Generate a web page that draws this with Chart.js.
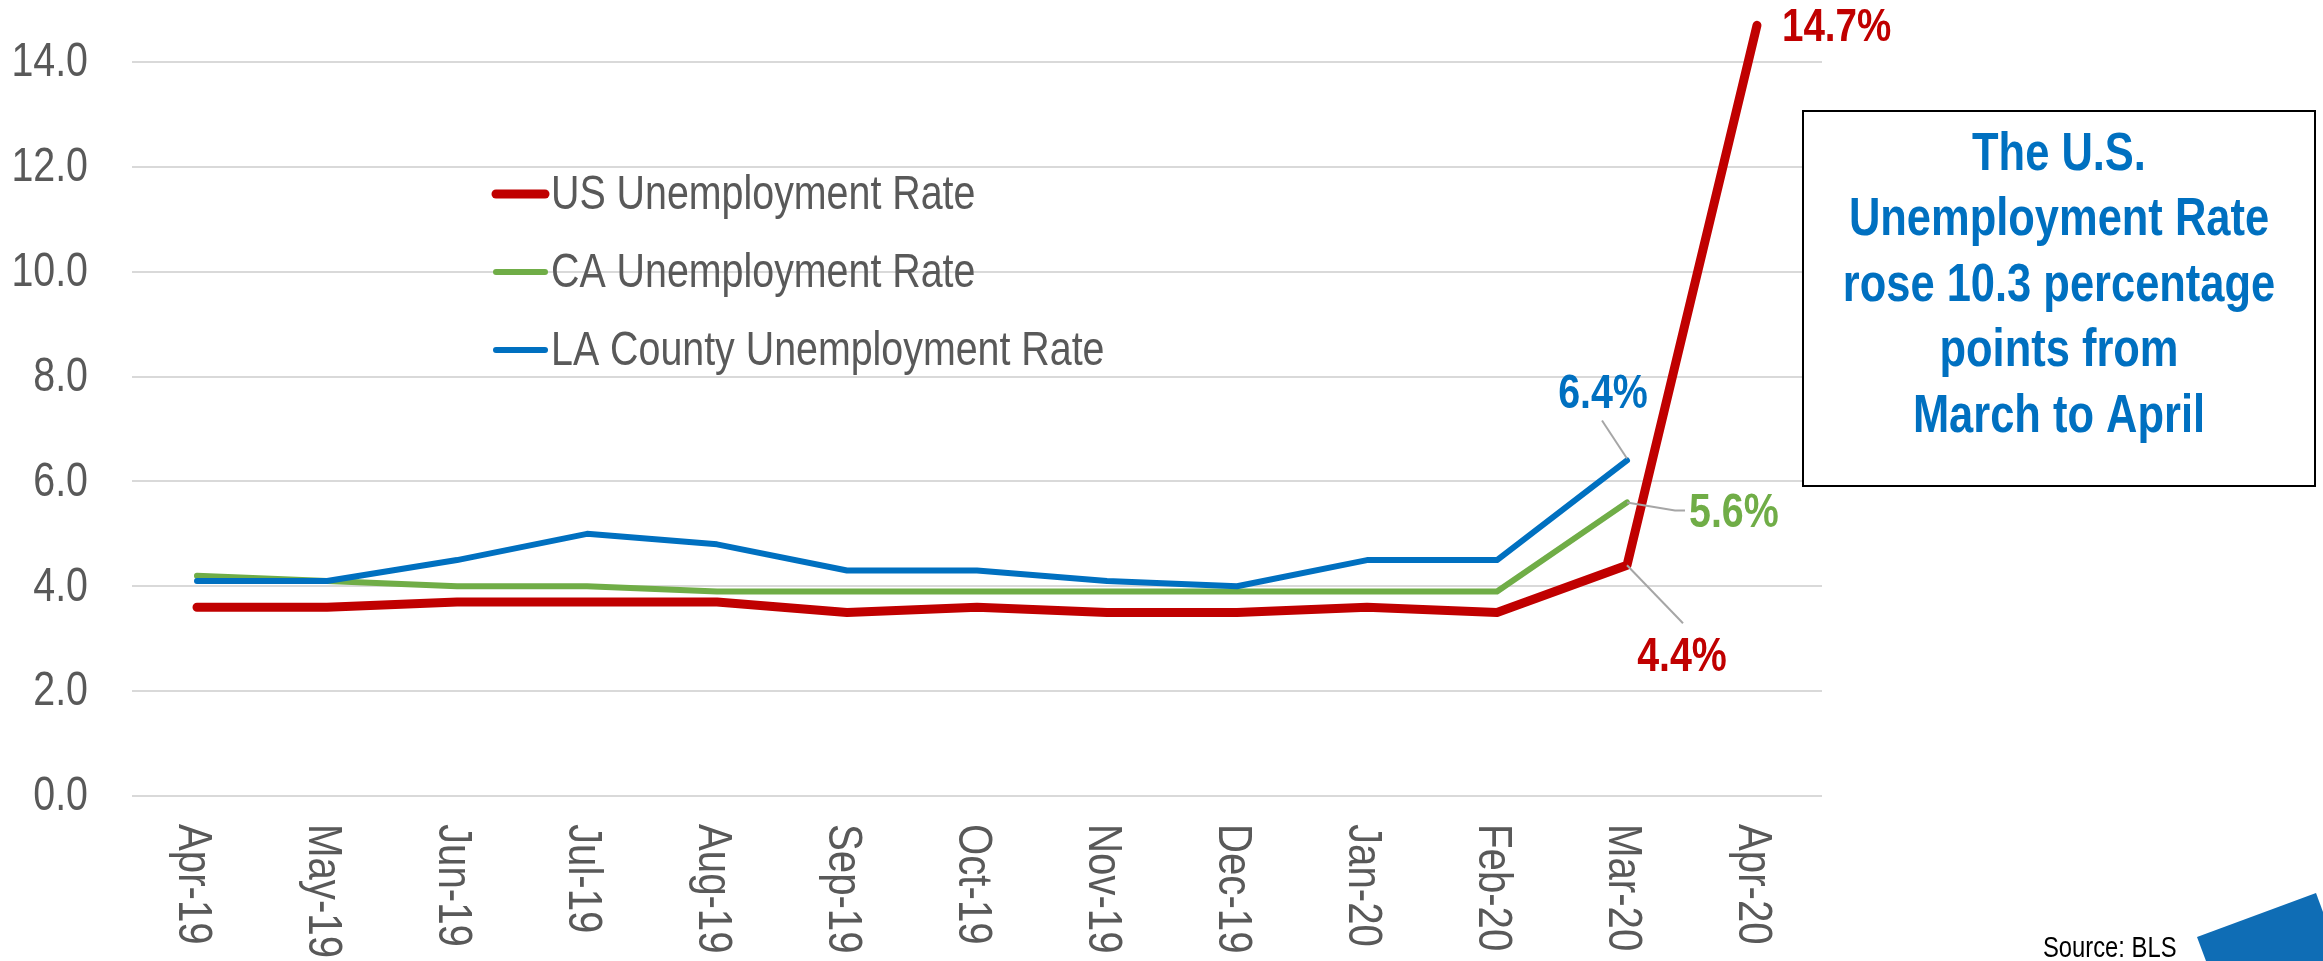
<!DOCTYPE html>
<html>
<head>
<meta charset="utf-8">
<script src="https://cdn.jsdelivr.net/npm/chart.js@4.4.0/dist/chart.umd.min.js"></script>
<style>
  html, body { margin: 0; padding: 0; background: #ffffff; }
  #wrap { width: 2323px; height: 961px; position: relative; }
</style>
</head>
<body>
<div id="wrap"><canvas id="chart" width="2323" height="961"></canvas></div>
<script>
// ---- data ----
const months = ["Apr-19", "May-19", "Jun-19", "Jul-19", "Aug-19", "Sep-19", "Oct-19",
    "Nov-19", "Dec-19", "Jan-20", "Feb-20", "Mar-20", "Apr-20"];
const usRate = [3.6, 3.6, 3.7, 3.7, 3.7, 3.5, 3.6, 3.5, 3.5, 3.6, 3.5, 4.4, 14.7];
const caRate = [4.2, 4.1, 4.0, 4.0, 3.9, 3.9, 3.9, 3.9, 3.9, 3.9, 3.9, 5.6, null];
const laRate = [4.1, 4.1, 4.5, 5.0, 4.8, 4.3, 4.3, 4.1, 4.0, 4.5, 4.5, 6.4, null];
const seriesNames = ["US Unemployment Rate", "CA Unemployment Rate", "LA County Unemployment Rate"];
const yTicks = [0, 2, 4, 6, 8, 10, 12, 14];
const noteLines = ["The U.S.", "Unemployment Rate", "rose 10.3 percentage", "points from", "March to April"];
const sourceText = "Source: BLS";

const RED = "#C00000";
const GREEN = "#70AD47";
const BLUE = "#0070C0";
const GREY_TEXT = "#595959";

// narrow font check, fall back to squeezing Liberation Sans
const probe = document.createElement("canvas").getContext("2d");
probe.font = '48px "Liberation Sans Narrow", monospace';
const wNarrow = probe.measureText("Unemployment Rate").width;
probe.font = "48px monospace";
const wMono = probe.measureText("Unemployment Rate").width;
const hasNarrow = Math.abs(wNarrow - wMono) > 0.5;
const FAMILY = hasNarrow ? '"Liberation Sans Narrow"' : '"Liberation Sans", Arial';
const SQUEEZE = hasNarrow ? 1 : 0.82;

function drawText(ctx, text, x, y, size, color, align, bold, base) {
    ctx.save();
    ctx.font = (bold ? "bold " : "") + size + "px " + FAMILY;
    ctx.fillStyle = color;
    ctx.textAlign = align || "left";
    ctx.textBaseline = base || "middle";
    ctx.translate(x, y);
    ctx.scale(SQUEEZE, 1);
    ctx.fillText(text, 0, 0);
    ctx.restore();
}

function leader(ctx, pts) {
    ctx.save();
    ctx.strokeStyle = "#A6A6A6";
    ctx.lineWidth = 2;
    ctx.beginPath();
    ctx.moveTo(pts[0][0], pts[0][1]);
    for (let i = 1; i < pts.length; i++) ctx.lineTo(pts[i][0], pts[i][1]);
    ctx.stroke();
    ctx.restore();
}

const extras = {
    id: "extras",
    afterDraw(chart) {
        const ctx = chart.ctx;
        const xs = chart.scales.x;
        const ys = chart.scales.y;

        // y tick labels
        yTicks.forEach(t => {
            drawText(ctx, t.toFixed(1), 88, ys.getPixelForValue(t) + 1, 48, GREY_TEXT, "right");
        });

        // x labels, turned to read downward
        months.forEach((m, i) => {
            ctx.save();
            ctx.translate(xs.getPixelForValue(i) - 4, 824);
            ctx.rotate(Math.PI / 2);
            drawText(ctx, m, 0, 0, 49, GREY_TEXT, "left");
            ctx.restore();
        });

        // legend inside the plot
        const rows = [194, 272, 350];
        chart.data.datasets.forEach((ds, i) => {
            ctx.save();
            ctx.strokeStyle = ds.borderColor;
            ctx.lineWidth = ds.borderWidth;
            ctx.lineCap = "round";
            ctx.beginPath();
            ctx.moveTo(496, rows[i]);
            ctx.lineTo(545, rows[i]);
            ctx.stroke();
            ctx.restore();
            drawText(ctx, ds.label, 551, rows[i] + 2, 48, GREY_TEXT, "left");
        });

        // value labels
        const last = months.length - 1;
        const usTop = chart.getDatasetMeta(0).data[last];
        const usMar = chart.getDatasetMeta(0).data[last - 1];
        const caMar = chart.getDatasetMeta(1).data[last - 1];
        const laMar = chart.getDatasetMeta(2).data[last - 1];

        drawText(ctx, usRate[last].toFixed(1) + "%", usTop.x + 25, usTop.y + 3, 47, RED, "left", true);

        leader(ctx, [[laMar.x, laMar.y - 2], [laMar.x - 25, laMar.y - 40]]);
        drawText(ctx, laRate[last - 1].toFixed(1) + "%", laMar.x - 24, laMar.y - 66, 48, BLUE, "center", true);

        leader(ctx, [[caMar.x, caMar.y], [caMar.x + 48, caMar.y + 8], [caMar.x + 58, caMar.y + 8]]);
        drawText(ctx, caRate[last - 1].toFixed(1) + "%", caMar.x + 62, caMar.y + 11, 48, GREEN, "left", true);

        leader(ctx, [[usMar.x, usMar.y], [usMar.x + 56, usMar.y + 58]]);
        drawText(ctx, usRate[last - 1].toFixed(1) + "%", usMar.x + 55, usMar.y + 92, 48, RED, "center", true);

        // note box
        ctx.save();
        ctx.fillStyle = "#ffffff";
        ctx.fillRect(1803, 111, 512, 375);
        ctx.strokeStyle = "#000000";
        ctx.lineWidth = 2;
        ctx.strokeRect(1803, 111, 512, 375);
        ctx.restore();
        noteLines.forEach((line, i) => {
            drawText(ctx, line, 2059, 155 + i * 65.5, 53, BLUE, "center", true);
        });

        // source + corner mark
        drawText(ctx, sourceText, 2043, 957, 29, "#000000", "left", false, "alphabetic");
        ctx.save();
        ctx.fillStyle = "#0F6DB5";
        ctx.beginPath();
        ctx.moveTo(2197, 937);
        ctx.lineTo(2316, 893);
        ctx.lineTo(2323, 912);
        ctx.lineTo(2323, 961);
        ctx.lineTo(2206, 961);
        ctx.closePath();
        ctx.fill();
        ctx.restore();
    }
};

new Chart(document.getElementById("chart").getContext("2d"), {
    type: "line",
    data: {
        labels: months,
        datasets: [
            { label: seriesNames[0], data: usRate, borderColor: RED, borderWidth: 9, order: 0 },
            { label: seriesNames[1], data: caRate, borderColor: GREEN, borderWidth: 6, order: 2 },
            { label: seriesNames[2], data: laRate, borderColor: BLUE, borderWidth: 6, order: 1 },
        ].map(d => Object.assign(d, {
            pointRadius: 0,
            pointHoverRadius: 0,
            tension: 0,
            fill: false,
            clip: false,
            borderCapStyle: "round",
            borderJoinStyle: "round",
            spanGaps: false,
        })),
    },
    options: {
        responsive: false,
        devicePixelRatio: 1,
        animation: false,
        events: [],
        layout: { padding: { top: 62, right: 501, left: 0, bottom: 0 } },
        scales: {
            x: {
                type: "category",
                offset: true,
                grid: { display: false },
                border: { display: false },
                ticks: { display: false },
                afterFit(scale) { scale.height = 165; },
            },
            y: {
                min: 0,
                max: 14,
                ticks: { display: false, stepSize: 2 },
                grid: { color: "#D9D9D9", lineWidth: 2, drawTicks: false },
                border: { display: false },
                afterFit(scale) { scale.width = 132; },
            },
        },
        plugins: {
            legend: { display: false },
            tooltip: { enabled: false },
        },
    },
    plugins: [extras],
});
</script>
</body>
</html>
